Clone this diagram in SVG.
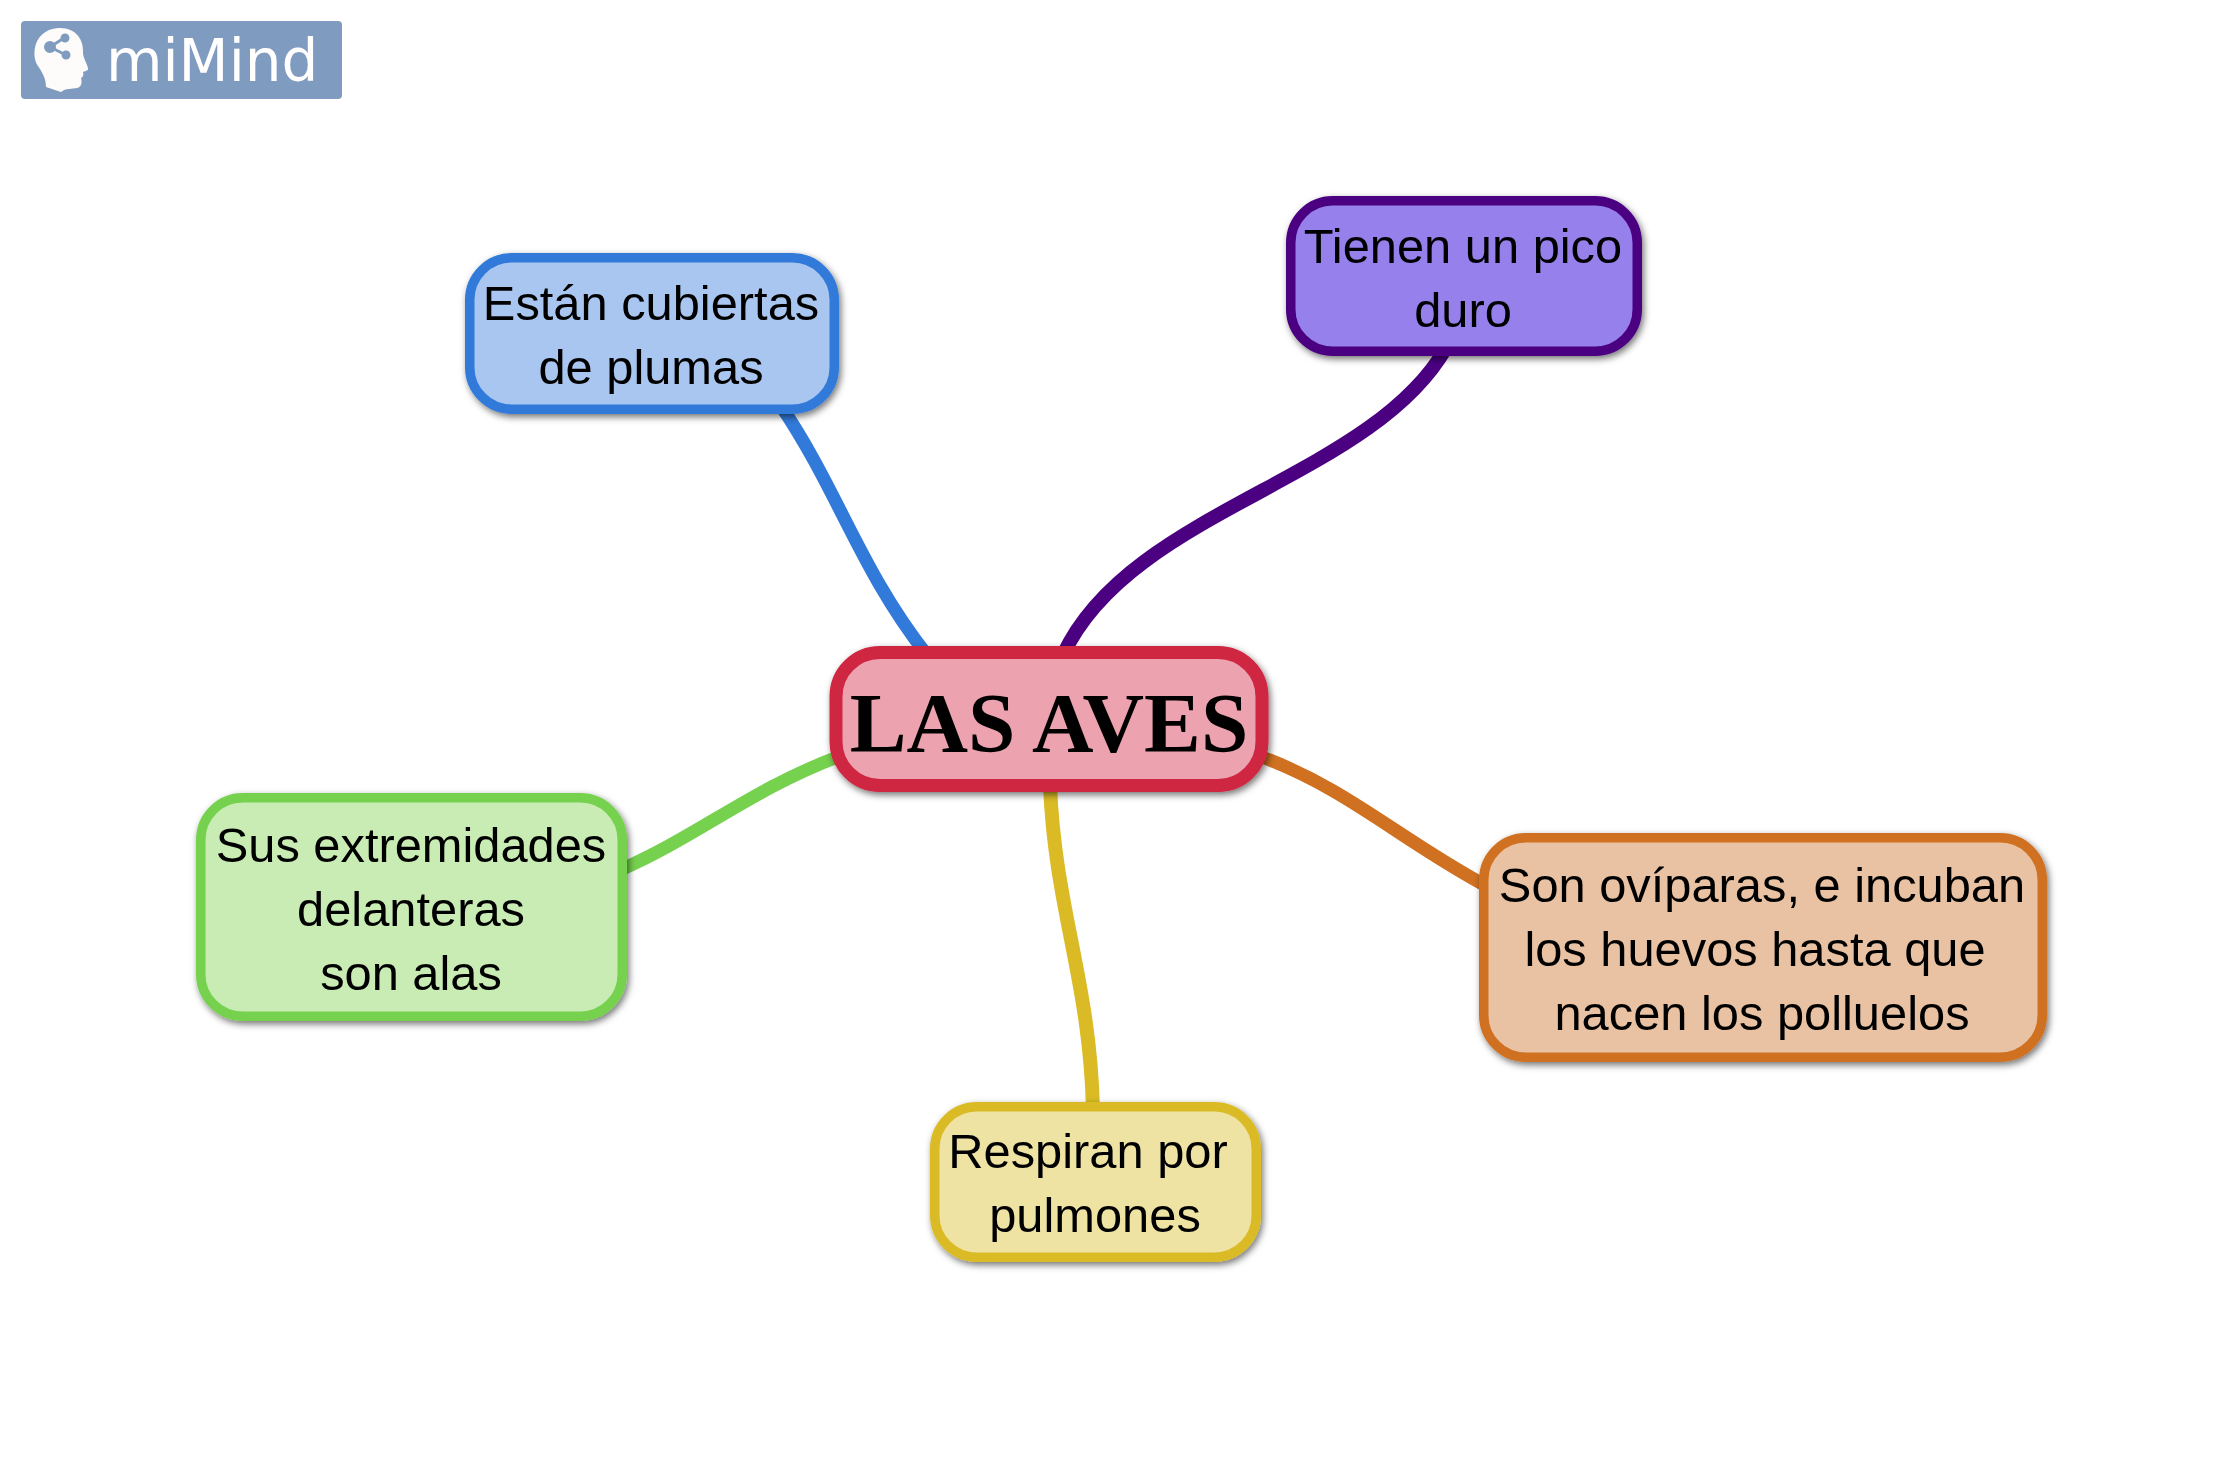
<svg xmlns="http://www.w3.org/2000/svg" width="2240" height="1457" viewBox="0 0 2240 1457">
<style>
.t{font-family:"Liberation Sans",Arial,sans-serif;font-size:48.8px;fill:#000;text-anchor:middle}
.c{font-family:"Liberation Serif","Times New Roman",serif;font-size:85.2px;font-weight:bold;fill:#000;text-anchor:middle}
.l{font-family:"DejaVu Sans",Verdana,sans-serif;font-size:58px;fill:#fff}
.n{filter:url(#s)}
.n rect{stroke-width:9.5}
#connectors path{fill:none;stroke-linecap:butt}
</style>
<defs>
<filter id="s" x="-10%" y="-10%" width="120%" height="125%">
<feDropShadow dx="2" dy="3" stdDeviation="3.500" flood-color="#000" flood-opacity="0.55"/>
</filter>
</defs>
<rect width="2240" height="1457" fill="#fff"/>
<g id="logo">
<rect x="21" y="21" width="321" height="78" rx="4" fill="#809bc0"/>
<path d="M58,28 C76,27 84,40 83,53 C83,58 88,65 88,69 C88,71 84,71 83,72 C84,75 83,77 81,78 C82,82 82,87 77,88 C72,89 66,88 61,92 L46,87 C46,78 42,72 38,66 C31,56 33,30 58,28 Z" fill="#fefcfa"/>
<g stroke="#809bc0" stroke-width="3" fill="#809bc0"><path d="M50,47 L64,38 M50,47 L66,55" fill="none"/><circle cx="50" cy="47" r="4.500"/><circle cx="65" cy="38" r="3"/><circle cx="66" cy="55" r="3"/></g>
<text class="l" x="106" y="81">miMind</text>
</g>
<g id="connectors">
<path d="M781,406 C838,490 860,570 927,655" stroke="#317ada" stroke-width="13"/>
<path d="M1446,348 C1370,480 1130,510 1063,655" stroke="#4b0082" stroke-width="14"/>
<path d="M618,871 C700,835 750,790 840,756" stroke="#76d14f" stroke-width="13"/>
<path d="M1262,757 C1350,790 1400,840 1490,888" stroke="#d07122" stroke-width="13"/>
<path d="M1050,785 C1055,910 1090,980 1093,1110" stroke="#dabb25" stroke-width="14"/>
</g>
<g id="node-center" class="n">
<rect x="836" y="652.500" width="426" height="133" rx="44" fill="#eca2af" stroke="#cf2542" style="stroke-width:13"/>
<text class="c" x="1049" y="752">LAS AVES</text>
</g>
<g id="node-plumas" class="n">
<rect x="469.750" y="257.750" width="364.500" height="151.500" rx="42" fill="#a8c6ef" stroke="#317ada"/>
<text class="t" x="651" y="320">Están cubiertas</text>
<text class="t" x="651" y="384">de plumas</text>
</g>
<g id="node-pico" class="n">
<rect x="1290.750" y="200.750" width="346.500" height="150.500" rx="42" fill="#9681ec" stroke="#4b0082"/>
<text class="t" x="1463" y="263">Tienen un pico</text>
<text class="t" x="1463" y="327">duro</text>
</g>
<g id="node-alas" class="n">
<rect x="200.750" y="797.750" width="421.500" height="218.500" rx="42" fill="#c8ecb4" stroke="#76d14f"/>
<text class="t" x="411" y="862">Sus extremidades</text>
<text class="t" x="411" y="926">delanteras</text>
<text class="t" x="411" y="990">son alas</text>
</g>
<g id="node-oviparas" class="n">
<rect x="1483.750" y="837.750" width="558.500" height="219.500" rx="42" fill="#e9c2a3" stroke="#d07122"/>
<text class="t" x="1762" y="902">Son ovíparas, e incuban</text>
<text class="t" x="1755" y="966">los huevos hasta que</text>
<text class="t" x="1762" y="1030">nacen los polluelos</text>
</g>
<g id="node-pulmones" class="n">
<rect x="934.750" y="1106.750" width="321.500" height="150.500" rx="42" fill="#efe3a4" stroke="#dabb25"/>
<text class="t" x="1088" y="1168">Respiran por</text>
<text class="t" x="1095" y="1232">pulmones</text>
</g>
</svg>
